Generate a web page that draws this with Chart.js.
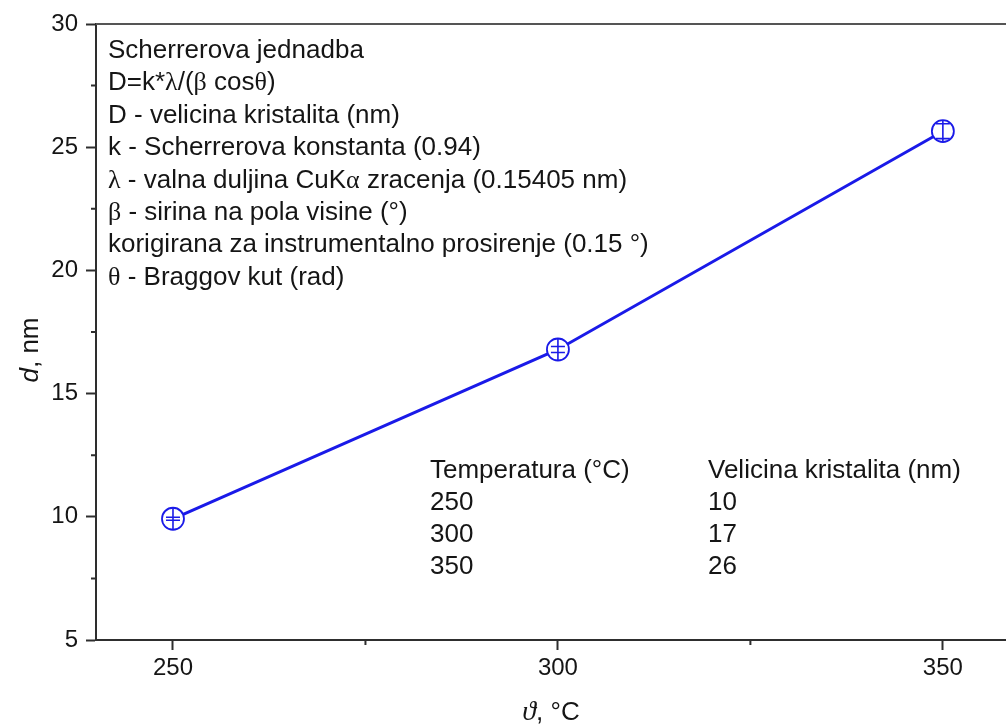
<!DOCTYPE html>
<html>
<head>
<meta charset="utf-8">
<title>Scherrer</title>
<script src="https://cdn.jsdelivr.net/npm/chart.js@4.4.1/dist/chart.umd.min.js"></script>
<style>
  html, body { margin: 0; padding: 0; background: #fff; overflow: hidden; }
  #wrap { width: 1006px; height: 726px; }
</style>
</head>
<body>
<div id="wrap"><canvas id="c" width="1006" height="726"></canvas></div>
<script>
// ── data ──────────────────────────────────────────────────────────────
const temps    = [250, 300, 350];
const sizes    = [9.92, 16.79, 25.65];
const sizeErr  = [0.06, 0.12, 0.3];

const xTicks   = [250, 300, 350];
const xMinor   = [275, 325];
const yTicks   = [5, 10, 15, 20, 25, 30];
const yMinor   = [7.5, 12.5, 17.5, 22.5, 27.5];

const noteLines = [
  'Scherrerova jednadba',
  'D=k*λ/(β cosθ)',
  'D - velicina kristalita (nm)',
  'k - Scherrerova konstanta (0.94)',
  'λ - valna duljina CuKα zracenja (0.15405 nm)',
  'β - sirina na pola visine (°)',
  'korigirana za instrumentalno prosirenje (0.15 °)',
  'θ - Braggov kut (rad)'
];
const tableHead = ['Temperatura (°C)', 'Velicina kristalita (nm)'];

// ── style ─────────────────────────────────────────────────────────────
const SANS  = '"Liberation Sans", Arial, sans-serif';
const SERIF = '"Liberation Serif", "DejaVu Serif", serif';
const BLUE  = '#1a1ae8';
const AXIS  = '#2e2e2e';
const TXT   = '#151515';
const FS    = 26;

Chart.defaults.font.family = SANS;
Chart.defaults.color = TXT;

// greek letters come out in the serif face, like the symbol font
function drawRich(ctx, str, x, y) {
  const runs = str.split(/([\u0370-\u03ff])/).filter(s => s.length);
  let cx = x;
  for (const r of runs) {
    ctx.font = (/[\u0370-\u03ff]/.test(r) ? FS + 'px ' + SERIF : FS + 'px ' + SANS);
    ctx.fillText(r, cx, y);
    cx += ctx.measureText(r).width;
  }
}

const decor = {
  id: 'decor',
  afterDatasetsDraw(chart) {
    const { ctx, scales: { y } } = chart;
    const meta = chart.getDatasetMeta(0);
    ctx.save();
    ctx.strokeStyle = BLUE;
    ctx.lineWidth = 1.6;
    meta.data.forEach((pt, i) => {
      const r = 11;
      const yHi = y.getPixelForValue(sizes[i] + sizeErr[i]);
      const yLo = y.getPixelForValue(sizes[i] - sizeErr[i]);
      ctx.beginPath();
      ctx.moveTo(pt.x, pt.y - r); ctx.lineTo(pt.x, pt.y + r);
      ctx.moveTo(pt.x - 7, yHi); ctx.lineTo(pt.x + 7, yHi);
      ctx.moveTo(pt.x - 7, yLo); ctx.lineTo(pt.x + 7, yLo);
      ctx.stroke();
    });
    ctx.restore();
  },
  afterDraw(chart) {
    const { ctx, chartArea: a, scales: { x, y } } = chart;
    ctx.save();

    // top frame line
    ctx.strokeStyle = '#555';
    ctx.lineWidth = 2;
    ctx.beginPath();
    ctx.moveTo(a.left, a.top); ctx.lineTo(a.right, a.top);
    ctx.stroke();

    // minor ticks
    ctx.strokeStyle = AXIS;
    ctx.beginPath();
    yMinor.forEach(v => {
      const py = y.getPixelForValue(v);
      ctx.moveTo(a.left, py); ctx.lineTo(a.left - 5, py);
    });
    xMinor.forEach(v => {
      const px = x.getPixelForValue(v);
      ctx.moveTo(px, a.bottom); ctx.lineTo(px, a.bottom + 5);
    });
    ctx.stroke();

    ctx.fillStyle = TXT;
    ctx.textAlign = 'left';
    ctx.textBaseline = 'alphabetic';

    // equation notes
    noteLines.forEach((s, i) => drawRich(ctx, s, a.left + 12, a.top + 34 + i * 32.4));

    // value table
    ctx.font = FS + 'px ' + SANS;
    const c1 = a.left + 334, c2 = a.left + 612, r0 = 478;
    ctx.fillText(tableHead[0], c1, r0);
    ctx.fillText(tableHead[1], c2, r0);
    temps.forEach((t, i) => {
      ctx.fillText(String(t), c1, r0 + 32 * (i + 1));
      ctx.fillText(String(Math.round(sizes[i])), c2, r0 + 32 * (i + 1));
    });

    // axis titles
    ctx.textBaseline = 'middle';
    const xt = [['ϑ', 'italic 28px ' + SERIF], [', °C', FS + 'px ' + SANS]];
    let w = 0;
    xt.forEach(([s, f]) => { ctx.font = f; w += ctx.measureText(s).width; });
    let cx = (a.left + a.right) / 2 - w / 2;
    xt.forEach(([s, f]) => { ctx.font = f; ctx.fillText(s, cx, 713); cx += ctx.measureText(s).width; });

    ctx.translate(31, 350);
    ctx.rotate(-Math.PI / 2);
    const yt = [['d', 'italic ' + FS + 'px ' + SANS], [', nm', FS + 'px ' + SANS]];
    w = 0;
    yt.forEach(([s, f]) => { ctx.font = f; w += ctx.measureText(s).width; });
    cx = -w / 2;
    yt.forEach(([s, f]) => { ctx.font = f; ctx.fillText(s, cx, 0); cx += ctx.measureText(s).width; });

    ctx.restore();
  }
};

new Chart(document.getElementById('c').getContext('2d'), {
  type: 'line',
  data: {
    datasets: [{
      data: temps.map((t, i) => ({ x: t, y: sizes[i] })),
      borderColor: BLUE,
      borderWidth: 3,
      pointRadius: 11,
      pointBorderWidth: 1.8,
      pointBorderColor: BLUE,
      pointBackgroundColor: '#fff',
      tension: 0,
      clip: false
    }]
  },
  options: {
    responsive: false,
    animation: false,
    layout: { autoPadding: false, padding: { top: 24, left: 0, right: 0, bottom: 0 } },
    plugins: { legend: { display: false }, tooltip: { enabled: false } },
    scales: {
      x: {
        type: 'linear', min: 240, max: 358.2,
        afterBuildTicks: s => { s.ticks = xTicks.map(v => ({ value: v })); },
        afterFit: s => { s.height = 86; s.paddingLeft = 0; s.paddingRight = 0; },
        grid: { drawOnChartArea: false, drawTicks: true, tickLength: 10, tickWidth: 2, tickColor: AXIS },
        border: { display: true, width: 2, color: AXIS },
        ticks: { padding: 4, color: TXT, font: { size: 24 }, maxRotation: 0 }
      },
      y: {
        type: 'linear', min: 5, max: 30,
        afterBuildTicks: s => { s.ticks = yTicks.map(v => ({ value: v })); },
        afterFit: s => { s.width = 96; s.paddingTop = 0; s.paddingBottom = 0; },
        grid: { drawOnChartArea: false, drawTicks: true, tickLength: 10, tickWidth: 2, tickColor: AXIS },
        border: { display: true, width: 2, color: AXIS },
        ticks: { padding: 8, color: TXT, font: { size: 24 } }
      }
    }
  },
  plugins: [decor]
});
</script>
</body>
</html>
